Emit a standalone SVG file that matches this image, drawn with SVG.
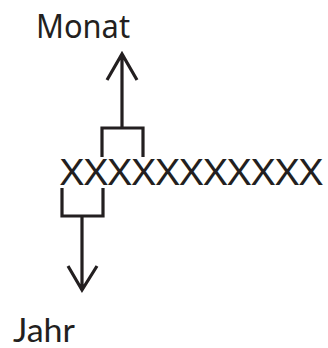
<svg xmlns="http://www.w3.org/2000/svg" width="328" height="348" viewBox="0 0 328 348">
<style>
text{font-family:"Noto Sans","Open Sans",sans-serif;fill:#231f20}
.ln{stroke:#231f20;stroke-width:3.2;fill:none}
</style>
<rect width="328" height="348" fill="#fff"/>
<g id="monat"><text x="36" y="38" font-size="33" textLength="94" lengthAdjust="spacingAndGlyphs">Monat</text></g>
<g id="row"><text x="60" y="185" font-size="36" textLength="263" lengthAdjust="spacingAndGlyphs">XXXXXXXXXXX</text></g>
<g id="jahr"><text x="13" y="342" font-size="33" style="font-family:Lato,'Noto Sans',sans-serif" textLength="62" lengthAdjust="spacingAndGlyphs">Jahr</text></g>
<g id="connectors">
<path class="ln" d="M102,157 V128 H143 V157 M122,128 V55 M107,80 L122,54 L137,80"/>
<path class="ln" d="M62,188 V216 H103 V188 M82,216 V289 M68,266 L82,290 L97,266"/>
</g>
</svg>
